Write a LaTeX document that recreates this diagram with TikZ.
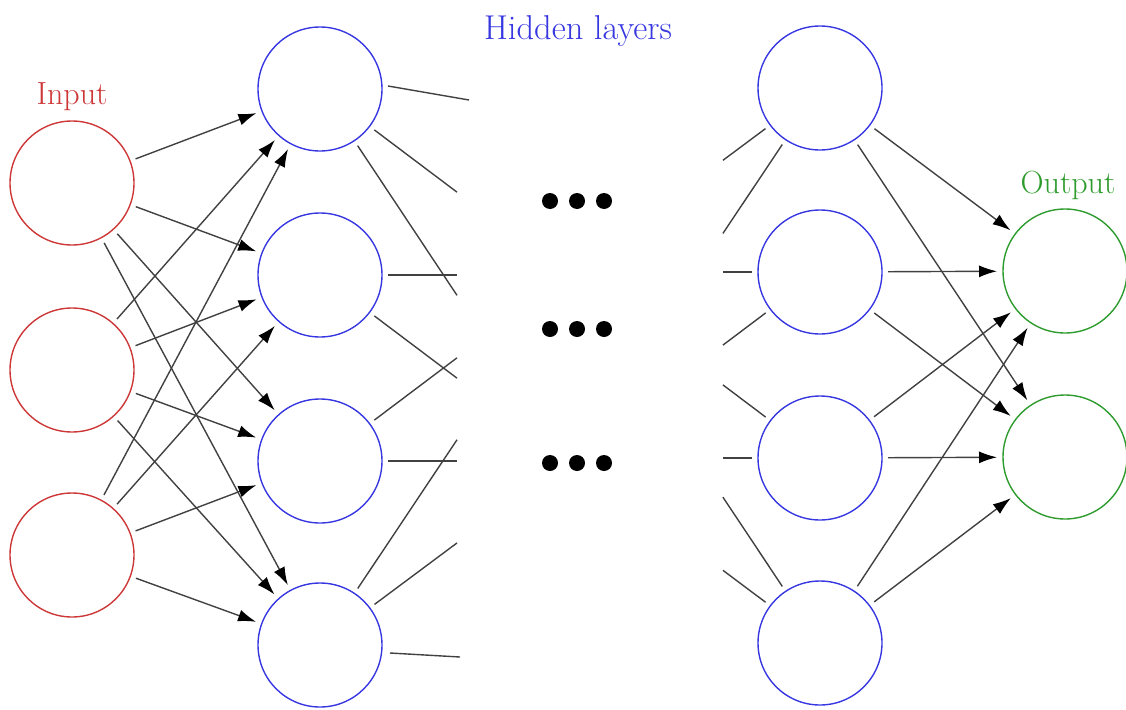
\documentclass[tikz,border=0pt]{standalone}
\usetikzlibrary{arrows.meta,calc}
\definecolor{inred}{RGB}{205,55,55}
\definecolor{hidblue}{RGB}{55,55,225}
\definecolor{outgreen}{RGB}{45,155,45}
\definecolor{edgegray}{RGB}{65,65,65}
\begin{document}
\begin{tikzpicture}[x=1pt,y=-1pt,
 neuron/.style={circle,minimum size=124pt,inner sep=0pt,outer sep=6pt,line width=1.4pt},
 inn/.style={neuron,draw=inred},
 hid/.style={neuron,draw=hidblue},
 outn/.style={neuron,draw=outgreen},
 conn/.style={draw=edgegray,line width=1.4pt},
 arr/.style={conn,-{Latex[length=18pt,width=12pt,black]}},
 lbl/.style={font=\fontsize{32}{38}\selectfont,anchor=base,inner sep=0pt},
 bigdot/.style={circle,fill=black,minimum size=16pt,inner sep=0pt}]
\useasboundingbox (0,0) rectangle (1126,709);

% neurons
\node[inn] (i1) at (72,183) {};
\node[inn] (i2) at (72,370) {};
\node[inn] (i3) at (72,555) {};
\node[hid] (h1) at (320,89) {};
\node[hid] (h2) at (320,275) {};
\node[hid] (h3) at (320,461) {};
\node[hid] (h4) at (320,645) {};
\node[hid] (l1) at (820,88) {};
\node[hid] (l2) at (820,272) {};
\node[hid] (l3) at (820,458) {};
\node[hid] (l4) at (820,643) {};
\node[outn] (o1) at (1065,271) {};
\node[outn] (o2) at (1065,457) {};

% labels
\node[lbl,text=inred] (tin) at (72,104) {Input};
\node[lbl,text=hidblue,font=\fontsize{34.5}{40}\selectfont] (thid) at (578,40) {Hidden layers};
\node[lbl,text=outgreen] (tout) at (1068,193) {Output};

% dots
\foreach \yy [count=\r] in {201,329,463}{
  \foreach \xx [count=\c] in {550,577,604}{
    \node[bigdot] (d\r\c) at (\xx,\yy) {};
  }
}

% virtual neighbours of the hidden layers
\coordinate (q2) at (567,275);
\coordinate (q3) at (567,461);
\coordinate (p2) at (573,272);
\coordinate (p3) at (573,458);

% cut-off connections leaving the first hidden layer
\foreach \i in {1,2,3,4}{
  \foreach \j in {2,3}{
    \coordinate (e\i\j) at ($(h\i)!0.5547!(q\j)$);
    \draw[conn] (h\i) -- (e\i\j);
  }
}
\coordinate (a1) at (388,86);
\coordinate (a2) at (469,100);
\coordinate (b1) at (390,653);
\coordinate (b2) at (460,657);
\draw[conn] (a1) -- (a2);
\draw[conn] (b1) -- (b2);

% cut-off connections entering the last hidden layer
\foreach \i in {1,2,3,4}{
  \foreach \j in {2,3}{
    \coordinate (f\i\j) at ($(p\j)!0.607!(l\i)$);
    \draw[conn] (f\i\j) -- (l\i);
  }
}

% input -> first hidden
\foreach \i in {1,2,3}{
  \foreach \j in {1,2,3,4}{
    \draw[arr] (i\i) -- (h\j);
  }
}
% last hidden -> output
\foreach \i in {1,2,3,4}{
  \foreach \j in {1,2}{
    \draw[arr] (l\i) -- (o\j);
  }
}
\end{tikzpicture}
\end{document}
